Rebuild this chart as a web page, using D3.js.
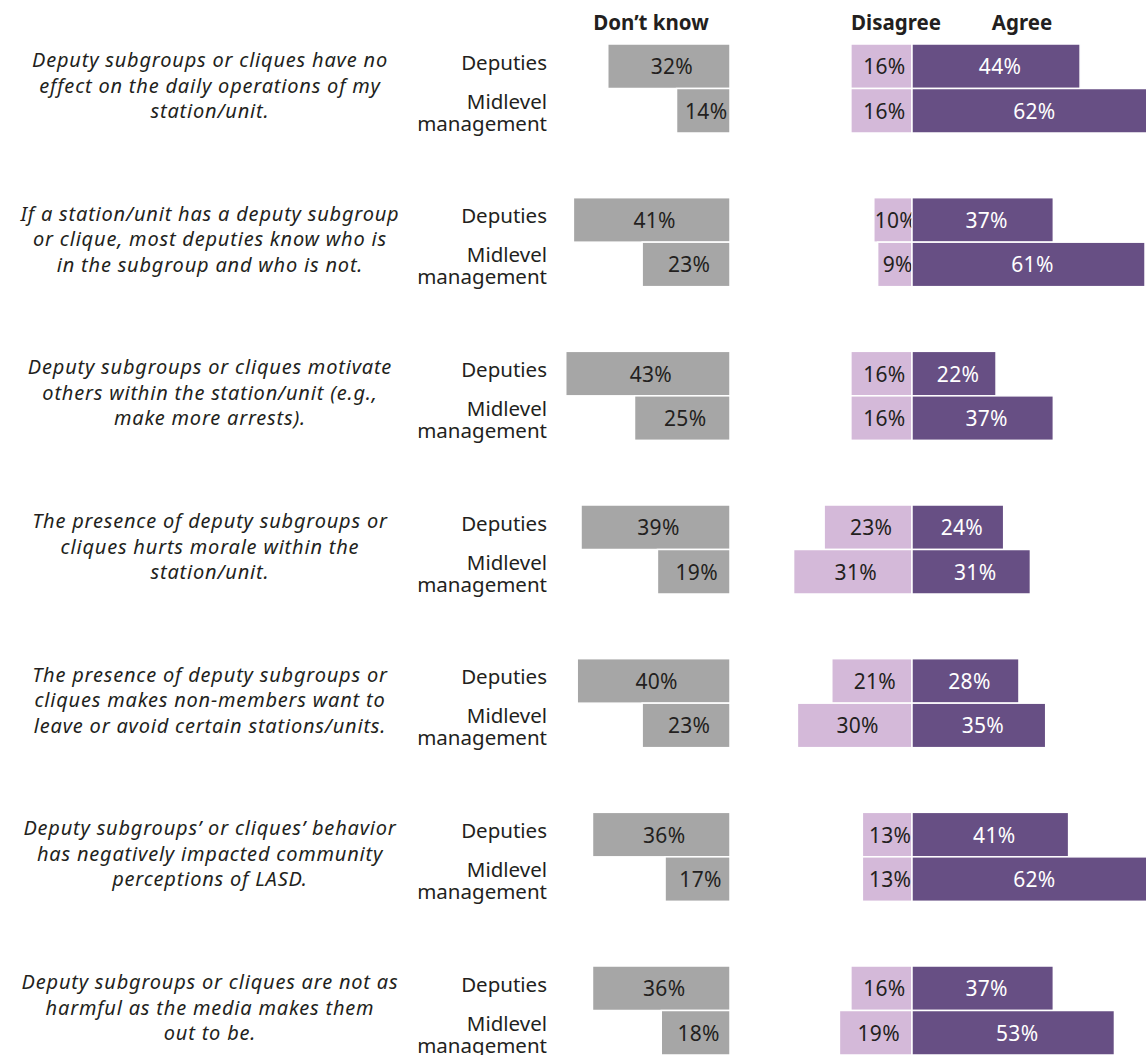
<!DOCTYPE html>
<html>
<head>
<meta charset="utf-8">
<script src="https://cdn.jsdelivr.net/npm/d3@7"></script>
<style>
    body { margin: 0; background: #fff; }
    svg { display: block; font-family: "Noto Sans", "Open Sans", sans-serif; }
</style>
</head>
<body>
<div id="chart"></div>
<script>
var statements = [
    ["Deputy subgroups or cliques have no", "effect on the daily operations of my", "station/unit."],
    ["If a station/unit has a deputy subgroup", "or clique, most deputies know who is", "in the subgroup and who is not."],
    ["Deputy subgroups or cliques motivate", "others within the station/unit (e.g.,", "make more arrests)."],
    ["The presence of deputy subgroups or", "cliques hurts morale within the", "station/unit."],
    ["The presence of deputy subgroups or", "cliques makes non-members want to", "leave or avoid certain stations/units."],
    ["Deputy subgroups\u2019 or cliques\u2019 behavior", "has negatively impacted community", "perceptions of LASD."],
    ["Deputy subgroups or cliques are not as", "harmful as the media makes them", "out to be."]
];
var groups = ["Deputies", "Midlevel management"];
var headers = ["Don\u2019t know", "Disagree", "Agree"];

var dontKnowDeputies = [32, 41, 43, 39, 40, 36, 36];
var dontKnowMidlevel = [14, 23, 25, 19, 23, 17, 18];
var disagreeDeputies = [16, 10, 16, 23, 21, 13, 16];
var disagreeMidlevel = [16, 9, 16, 31, 30, 13, 19];
var agreeDeputies = [44, 37, 22, 24, 28, 41, 37];
var agreeMidlevel = [62, 61, 37, 31, 35, 62, 53];

var width = 1146, height = 1055;
var dkRight = 730, divider = 912;

var svg = d3.select("#chart").append("svg")
    .attr("width", width)
    .attr("height", height);

// one px-per-percent scale used for all three panels
var x = d3.scaleLinear().domain([0, 100]).range([0, 382]);

var blockY = d3.scaleLinear().domain([0, 6]).range([44, 966]);
var rowY = d3.scaleBand().domain(groups).range([0, 89]);

var rows = [];
statements.forEach(function (s, i) {
    rows.push({i: i, group: groups[0], dk: dontKnowDeputies[i], dis: disagreeDeputies[i], agr: agreeDeputies[i]});
    rows.push({i: i, group: groups[1], dk: dontKnowMidlevel[i], dis: disagreeMidlevel[i], agr: agreeMidlevel[i]});
});

function rowTop(d) { return blockY(d.i) + rowY(d.group); }

// headers
var headerX = [651, 896, 1022];
svg.append("g").selectAll("text")
    .data(headers)
    .enter().append("text")
    .attr("x", function (d, i) { return headerX[i]; })
    .attr("y", 30)
    .attr("text-anchor", "middle")
    .style("font-weight", "bold")
    .style("font-size", "20.5px")
    .style("fill", "#231f20")
    .text(function (d) { return d; });

// statements
var st = svg.append("g").selectAll("text")
    .data(statements)
    .enter().append("text")
    .attr("text-anchor", "middle")
    .style("font-style", "italic")
    .style("font-size", "20px")
    .style("letter-spacing", "0.8px")
    .style("fill", "#231f20");

st.selectAll("tspan")
    .data(function (d, i) { return d.map(function (l, k) { return {l: l, k: k, i: i}; }); })
    .enter().append("tspan")
    .attr("x", 210)
    .attr("y", function (d) { return blockY(d.i) + 23 + d.k * 25.5; })
    .text(function (d) { return d.l; });

// group labels
var gl = svg.append("g").selectAll("text")
    .data(rows)
    .enter().append("text")
    .attr("text-anchor", "end")
    .style("font-size", "20.5px")
    .style("fill", "#231f20");

gl.selectAll("tspan")
    .data(function (d) {
        var words = d.group === "Deputies" ? ["Deputies"] : ["Midlevel", "management"];
        return words.map(function (w, k) { return {w: w, k: k, d: d, n: words.length}; });
    })
    .enter().append("tspan")
    .attr("x", 547)
    .attr("y", function (t) {
        return t.n === 1 ? rowTop(t.d) + 25.5 : rowTop(t.d) + 20 + t.k * 22;
    })
    .text(function (t) { return t.w; });

function bars(cls, color, xPos, w, labelColor, labelX) {
    var g = svg.append("g").attr("class", cls);
    g.selectAll("rect")
        .data(rows)
        .enter().append("rect")
        .attr("x", xPos)
        .attr("y", rowTop)
        .attr("width", w)
        .attr("height", rowY.bandwidth())
        .style("fill", color)
        .style("stroke", "#fff")
        .style("stroke-width", 1.5);
    g.selectAll("text")
        .data(rows)
        .enter().append("text")
        .attr("x", labelX)
        .attr("y", function (d) { return rowTop(d) + rowY.bandwidth() / 2 + 8; })
        .attr("text-anchor", "middle")
        .style("font-size", "21px")
        .style("letter-spacing", "0.3px")
        .style("fill", labelColor)
        .text(function (d) { return d[cls] + "%"; });
}

bars("dk", "#a6a6a6",
    function (d) { return dkRight - x(d.dk); },
    function (d) { return x(d.dk); },
    "#231f20",
    function (d) { return dkRight - x(d.dk) / 2 + 3; });

bars("dis", "#d4b9d9",
    function (d) { return divider - x(d.dis); },
    function (d) { return x(d.dis); },
    "#231f20",
    function (d) { return divider - x(d.dis) / 2 + 3; });

bars("agr", "#674f84",
    function () { return divider; },
    function (d) { return x(d.agr); },
    "#fff",
    function (d) { return divider + x(d.agr) / 2 + 4; });
</script>
</body>
</html>
